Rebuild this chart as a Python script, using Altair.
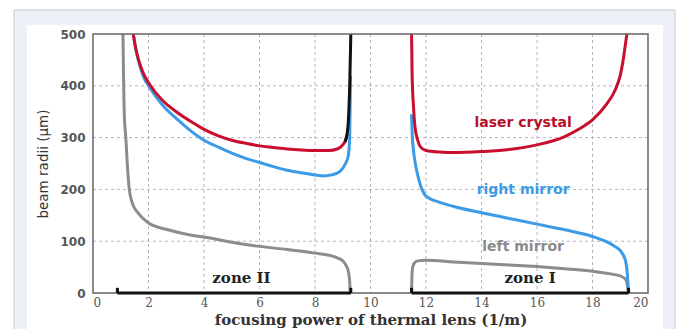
import altair as alt
import pandas as pd

# ---- data ----
left2_x = [1.08, 1.10, 1.12, 1.14, 1.18, 1.25, 1.31, 1.42, 1.63, 2.0, 2.7, 3.5, 4.0, 5.0, 6.0, 7.0, 8.0, 8.5, 8.8, 9.0, 9.1, 9.2, 9.25, 9.27]
left2_y = [500, 420, 360, 330, 302, 237, 199, 173, 154, 135, 122, 112, 108, 98, 90, 84, 77, 73, 68, 62, 55, 42, 22, 0]

right2_x = [1.45, 1.55, 1.7, 1.85, 2.0, 2.5, 3.0, 3.5, 4.0, 4.5, 5.0, 5.5, 6.0, 6.5, 7.0, 7.5, 8.0, 8.3, 8.6, 8.9, 9.1, 9.2, 9.25, 9.28]
right2_y = [500, 468, 436, 414, 400, 363, 337, 314, 295, 282, 270, 260, 252, 244, 237, 232, 228, 226, 228, 235, 250, 265, 300, 420]

crys2_x = [1.45, 1.55, 1.7, 1.85, 2.0, 2.5, 3.0, 3.5, 4.0, 4.5, 5.0, 5.5, 6.0, 6.5, 7.0, 7.5, 8.0, 8.5, 8.8, 9.0, 9.1, 9.15]
crys2_y = [500, 470, 440, 420, 406, 372, 350, 332, 316, 304, 295, 289, 284, 281, 278, 276, 275, 275, 278, 286, 295, 305]

black2_x = [9.08, 9.15, 9.2, 9.25, 9.28, 9.29]
black2_y = [292, 305, 330, 400, 470, 500]

left1_x = [11.48, 11.5, 11.55, 11.7, 12.0, 13.0, 14.0, 15.0, 16.0, 17.0, 18.0, 18.5, 19.0, 19.2, 19.3]
left1_y = [0, 40, 55, 62, 63, 60, 57, 54, 51, 47, 42, 38, 33, 26, 0]

right1_x = [11.48, 11.5, 11.55, 11.6, 11.7, 11.8, 11.9, 12.0, 12.5, 13.0, 14.0, 15.0, 16.0, 17.0, 18.0, 18.5, 18.8, 19.0, 19.1, 19.2, 19.25, 19.3]
right1_y = [345, 310, 275, 255, 228, 208, 195, 187, 175, 167, 155, 144, 133, 122, 109, 99, 90, 82, 74, 60, 40, 0]

crys1_x = [11.48, 11.5, 11.55, 11.6, 11.7, 11.8, 12.0, 12.5, 13.0, 14.0, 15.0, 16.0, 17.0, 17.5, 18.0, 18.5, 18.8, 19.0, 19.1, 19.2, 19.24]
crys1_y = [500, 420, 360, 322, 295, 282, 275, 272, 271, 273, 277, 286, 302, 316, 334, 364, 390, 420, 448, 485, 500]

zone_starts = [0.88, 11.48]
zone_ends = [9.29, 19.3]

x_ticks = list(range(0, 21, 2))
y_ticks = list(range(0, 501, 100))

labels_text = ["laser crystal", "right mirror", "left mirror"]
labels_x = [15.5, 15.5, 15.5]
labels_y = [329, 199, 89]
labels_color = ["#b8102a", "#3b9be6", "#8a8a8a"]

zone_text = ["zone II", "zone I"]
zone_x = [5.35, 15.75]
zone_y = [29, 29]

# ---- build tables ----
rows = []
def add(name, seg, xs, ys):
    for i, (a, b) in enumerate(zip(xs, ys)):
        rows.append({"series": name, "seg": seg, "x": a, "y": b, "o": i})

add("left", "left2", left2_x, left2_y)
add("left", "left1", left1_x, left1_y)
add("right", "right2", right2_x, right2_y)
add("right", "right1", right1_x, right1_y)
add("crystal", "crys2", crys2_x, crys2_y)
add("crystal", "crys1", crys1_x, crys1_y)
add("black", "black2", black2_x, black2_y)
lines = pd.DataFrame(rows)

W, H = 555, 259
xs = alt.Scale(domain=[0, 20], nice=False)
ys = alt.Scale(domain=[0, 500], nice=False)

xax = alt.Axis(values=x_ticks, title="focusing power of thermal lens (1/m)",
               grid=False, ticks=False, domain=False, zindex=2,
               labelFont="DejaVu Serif", labelFontSize=12, labelColor="#555555", labelPadding=4,
               titleFont="DejaVu Serif", titleFontSize=15, titleFontWeight="bold", titleColor="#333333",
               titlePadding=4)
yax = alt.Axis(values=y_ticks, title="beam radii (µm)",
               grid=False, ticks=False, domain=False, zindex=2,
               labelFont="DejaVu Sans", labelFontSize=12, labelColor="#555555", labelPadding=8,
               labelFontWeight="bold",
               titleFont="DejaVu Sans", titleFontSize=13.5, titleFontWeight="normal", titleColor="#333333",
               titlePadding=9)

one = pd.DataFrame({"a": [0]})
bg = alt.Chart(one).mark_rect(color="#eef0f7", stroke="#c8cad4", strokeWidth=1, clip=False).encode(
    x=alt.value(-79), x2=alt.value(582), y=alt.value(-24), y2=alt.value(300))
panel = alt.Chart(one).mark_rect(color="#ffffff", clip=False).encode(
    x=alt.value(-66), x2=alt.value(570), y=alt.value(-9), y2=alt.value(300))

gx = alt.Chart(pd.DataFrame({"v": x_ticks[1:-1]})).mark_rule(color="#b4b4c4", strokeDash=[3, 3], strokeWidth=1).encode(
    x=alt.X("v:Q", scale=xs, axis=xax))
gy = alt.Chart(pd.DataFrame({"v": y_ticks[1:-1]})).mark_rule(color="#b4b4c4", strokeDash=[3, 3], strokeWidth=1).encode(
    y=alt.Y("v:Q", scale=ys, axis=yax))

color_scale = alt.Scale(domain=["left", "right", "crystal", "black"],
                        range=["#8c8c8c", "#3b9be6", "#c8102e", "#111111"])
line_layer = alt.Chart(lines).mark_line(strokeWidth=3, clip=True, interpolate="monotone").encode(
    x=alt.X("x:Q", scale=xs),
    y=alt.Y("y:Q", scale=ys),
    color=alt.Color("series:N", scale=color_scale, legend=None),
    detail="seg:N",
    order="o:Q",
)

frame = alt.Chart(one).mark_rect(fill=None, stroke="#666666", strokeWidth=1.5).encode(
    x=alt.datum(0, scale=xs), x2=alt.datum(20), y=alt.datum(0, scale=ys), y2=alt.datum(500))

zones = pd.DataFrame({"x1": zone_starts, "x2": zone_ends})
zone_rule = alt.Chart(zones).mark_rule(color="#111111", strokeWidth=3).encode(
    x=alt.X("x1:Q", scale=xs), x2="x2:Q", y=alt.datum(0))
ends = pd.DataFrame({"x": zone_starts + zone_ends})
end_ticks = alt.Chart(ends).mark_rule(color="#111111", strokeWidth=3).encode(
    x=alt.X("x:Q", scale=xs), y=alt.datum(0), y2=alt.datum(10))

lab = pd.DataFrame({"t": labels_text, "x": labels_x, "y": labels_y, "c": labels_color})
labels = alt.Chart(lab).mark_text(font="DejaVu Sans", fontSize=14, fontWeight="bold").encode(
    x=alt.X("x:Q", scale=xs), y=alt.Y("y:Q", scale=ys), text="t:N", color=alt.Color("c:N", scale=None))

zl = pd.DataFrame({"t": zone_text, "x": zone_x, "y": zone_y})
zone_labels = alt.Chart(zl).mark_text(font="DejaVu Serif", fontSize=15, fontWeight="bold", color="#222222").encode(
    x=alt.X("x:Q", scale=xs), y=alt.Y("y:Q", scale=ys), text="t:N")

chart = alt.layer(bg, panel, gx, gy, line_layer, frame, zone_rule, end_ticks, labels, zone_labels).properties(
    width=W, height=H,
    autosize=alt.AutoSizeParams(type="none"),
    padding={"left": 93, "top": 34, "right": 33, "bottom": 36},
    background="#ffffff",
).configure_view(stroke=None)

chart.save("out.html", embed_options={"renderer": "svg", "actions": False})
